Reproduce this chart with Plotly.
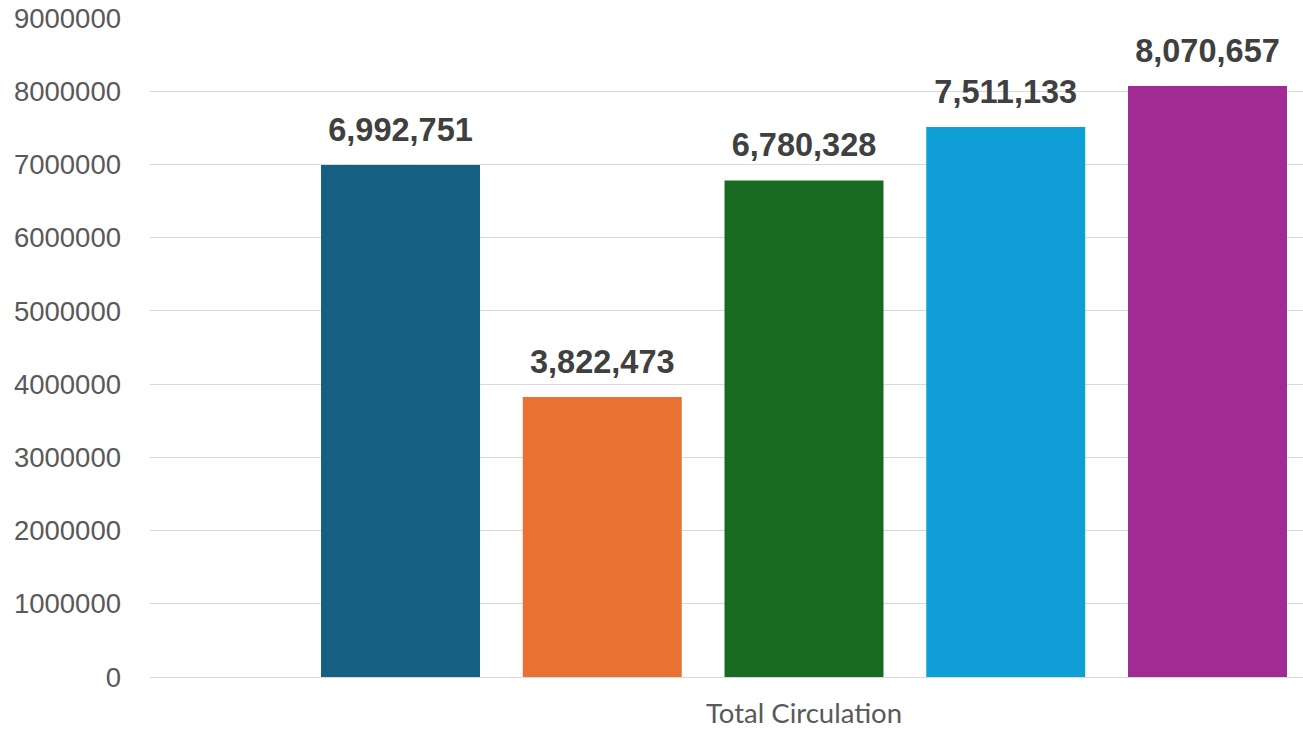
import plotly.graph_objects as go

# Circulation totals, one bar per series in a single category
category = ["Total Circulation"]
series_names = ["Series 1", "Series 2", "Series 3", "Series 4", "Series 5"]
series_values = [6992751, 3822473, 6780328, 7511133, 8070657]
series_colors = ["#156082", "#E97132", "#196B24", "#0F9ED5", "#A02B93"]

y_ticks = [0, 1000000, 2000000, 3000000, 4000000, 5000000, 6000000, 7000000, 8000000, 9000000]

fig = go.Figure()
for name, val, col in zip(series_names, series_values, series_colors):
    fig.add_trace(go.Bar(
        name=name,
        x=category,
        y=[val],
        marker=dict(color=col, line=dict(width=0)),
        texttemplate="<span style='font-size:32.5px'><b>%{y:,.0f}</b></span><br>\u00a0",
        textposition="outside",
        textfont=dict(family="Liberation Sans, Arial, sans-serif", size=14, color="#404040"),
        cliponaxis=False,
        hoverinfo="skip",
    ))

fig.update_layout(
    width=1303,
    height=729,
    margin=dict(l=150, r=0, t=18, b=52, autoexpand=False),
    paper_bgcolor="white",
    plot_bgcolor="white",
    barmode="group",
    bargap=0.2288,
    bargroupgap=0.212,
    showlegend=False,
    xaxis=dict(
        type="category",
        range=[-0.5, 0.3815],
        automargin=False,
        showgrid=False,
        showline=True,
        linecolor="#d9d9d9",
        linewidth=1,
        ticks="",
        ticklabelstandoff=12,
        tickfont=dict(family="Lato, sans-serif", size=27.5, color="#595959"),
        fixedrange=True,
    ),
    yaxis=dict(
        range=[0, 9000000],
        automargin=False,
        tickvals=y_ticks,
        tickformat="d",
        showgrid=True,
        gridcolor="#d9d9d9",
        gridwidth=1,
        zeroline=False,
        showline=False,
        ticks="",
        ticklabelstandoff=28,
        tickfont=dict(family="Liberation Sans, Arial, sans-serif", size=27.5, color="#595959"),
        fixedrange=True,
    ),
)

fig.write_html("out.html")
